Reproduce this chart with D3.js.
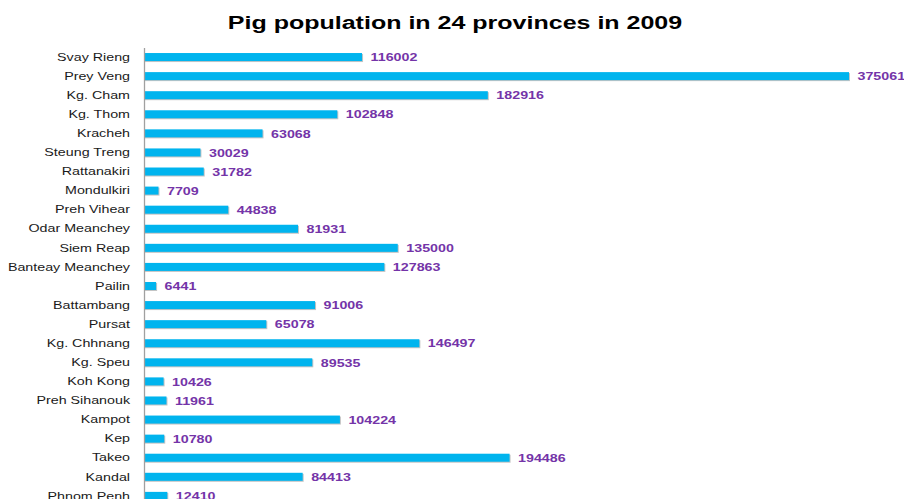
<!DOCTYPE html>
<html>
<head>
<meta charset="utf-8">
<script src="https://cdn.jsdelivr.net/npm/d3@7"></script>
<style>
  html, body { margin: 0; padding: 0; background: #fff; }
  svg { display: block; }
</style>
</head>
<body>
<svg id="chart" width="904" height="499"></svg>
<script>
// Provinces, top to bottom
const provinces = [
  "Svay Rieng", "Prey Veng", "Kg. Cham", "Kg. Thom", "Kracheh", "Steung Treng",
  "Rattanakiri", "Mondulkiri", "Preh Vihear", "Odar Meanchey", "Siem Reap",
  "Banteay Meanchey", "Pailin", "Battambang", "Pursat", "Kg. Chhnang",
  "Kg. Speu", "Koh Kong", "Preh Sihanouk", "Kampot", "Kep", "Takeo",
  "Kandal", "Phnom Penh"
];

// Pig head count per province, 2009
const pigs = [
  116002, 375061, 182916, 102848, 63068, 30029,
  31782, 7709, 44838, 81931, 135000,
  127863, 6441, 91006, 65078, 146497,
  89535, 10426, 11961, 104224, 10780, 194486,
  84413, 12410
];

const chartTitle = "Pig population in 24 provinces in 2009";

const data = provinces.map((p, i) => ({ name: p, value: pigs[i] }));

const FONT = "Liberation Sans, Arial, sans-serif";
// horizontal stretch of the lettering (wide-set type)
const titleStretch = 1.39;
const catStretch = 1.23;
const valStretch = 1.23;

const svg = d3.select("#chart");

const x = d3.scaleLinear()
  .domain([0, 375061])
  .range([144, 849]);

const y = d3.scaleBand()
  .domain(provinces)
  .range([47.5, 47.5 + 24 * 19.08])
  .paddingInner(0.58)
  .paddingOuter(0.29);

// Title
svg.append("text")
  .attr("transform", `translate(455,29.3) scale(${titleStretch},1)`)
  .attr("text-anchor", "middle")
  .attr("font-family", FONT)
  .attr("font-weight", "bold")
  .attr("font-size", 18)
  .attr("fill", "#000")
  .text(chartTitle);

// Bar shadows
svg.append("g")
  .selectAll("rect")
  .data(data)
  .join("rect")
  .attr("x", x(0) + 1)
  .attr("y", d => y(d.name) + 1)
  .attr("width", d => x(d.value) - x(0))
  .attr("height", y.bandwidth())
  .attr("fill", "#c4c4c4");

// Bars
svg.append("g")
  .selectAll("rect")
  .data(data)
  .join("rect")
  .attr("x", x(0))
  .attr("y", d => y(d.name))
  .attr("width", d => x(d.value) - x(0))
  .attr("height", y.bandwidth())
  .attr("fill", "#00B4EE");

// Category axis
const pad = 14;
const yAxis = svg.append("g")
  .attr("transform", `translate(${x(0)},0)`)
  .call(d3.axisLeft(y).tickSize(0).tickPadding(pad));
yAxis.select(".domain")
  .attr("stroke", "#a0a0a0")
  .attr("stroke-width", 1.3);
yAxis.selectAll(".tick text")
  .attr("x", -pad / catStretch)
  .attr("transform", `scale(${catStretch},1)`)
  .attr("font-family", FONT)
  .attr("font-size", 11.6)
  .attr("fill", "#1a1a1a");

// Value labels
svg.append("g")
  .selectAll("text")
  .data(data)
  .join("text")
  .attr("transform", d =>
    `translate(${x(d.value) + 8.5},${y(d.name) + y.bandwidth() / 2}) scale(${valStretch},1)`)
  .attr("dy", "0.36em")
  .attr("font-family", FONT)
  .attr("font-weight", "bold")
  .attr("font-size", 11.6)
  .attr("fill", "#7434A8")
  .text(d => d.value);
</script>
</body>
</html>
